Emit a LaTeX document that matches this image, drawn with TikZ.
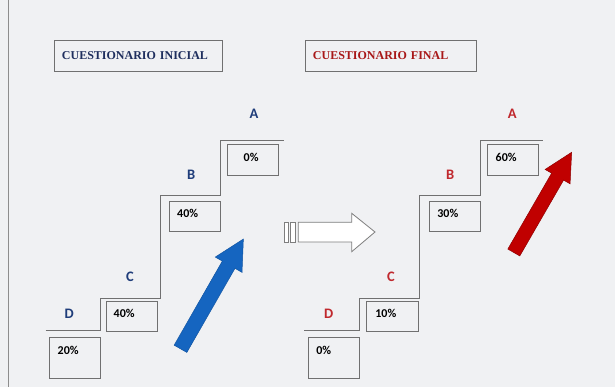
\documentclass[tikz,border=0pt]{standalone}
\usepackage{fontspec}
\setmainfont{Liberation Serif}
\newfontfamily\calib{Carlito}
\usepackage{tikz}
\usetikzlibrary{positioning}
\definecolor{pagebg}{HTML}{F0F1F3}
\definecolor{linegray}{HTML}{707070}
\definecolor{navytxt}{HTML}{1F2F5E}
\definecolor{navylab}{HTML}{1F3D7A}
\definecolor{redtxt}{HTML}{A81818}
\definecolor{redlab}{HTML}{C0282D}
\definecolor{arrowblue}{HTML}{1565C0}
\definecolor{arrowred}{HTML}{C00000}
\tikzset{%
  pbox/.style={draw=linegray, line width=0.9pt, minimum width=51.3pt, minimum height=30.3pt, anchor=north west, inner sep=0pt},
  lowbox/.style={pbox, minimum height=40.5pt},
  pct/.style={font=\calib\bfseries\fontsize{12}{14}\selectfont, anchor=west, inner sep=0pt},
  stairs/.style={draw=linegray, line width=1pt},
  letter/.style={font=\calib\bfseries\fontsize{14.5}{16}\selectfont, inner sep=0pt},
  titlebox/.style={draw=linegray, line width=0.9pt, anchor=north west, minimum height=31pt, inner xsep=7.5pt, align=left, font=\bfseries\fontsize{12}{14}\selectfont},
  hollow/.style={draw=linegray!90, line width=0.8pt, fill=white},
}

\begin{document}
\begin{tikzpicture}[x=1pt,y=-1pt]
\useasboundingbox (0,0) rectangle (615,387);
\fill[pagebg] (0,0) rectangle (615,387);
\draw[linegray!80, line width=1pt] (8,0) -- (8,387);
% titles
\node[titlebox, text width=153pt, text=navytxt] (tinit) at (54,40) {CUESTIONARIO INICIAL};
\node[titlebox, text width=156pt, text=redtxt] (tfinal) at (305,40) {CUESTIONARIO FINAL};
% left stairs
\draw[stairs] (45.7,330.7) -- (100,330.7) -- (100,298.3) -- (160,298.3) -- (160,196) -- (220.7,196) -- (220.7,140.7) -- (284.3,140.7);
\node[lowbox] (boxD1) at (49,337) {};
\node[pbox] (boxC1) at (106,300.7) {};
\node[pbox] (boxB1) at (169,200.7) {};
\node[pbox] (boxA1) at (227,144.3) {};
\node[pct] (pD1) at (57.5,350) {20\%};
\node[pct] (pC1) at (113.5,313) {40\%};
\node[pct] (pB1) at (177,213.3) {40\%};
\node[pct] (pA1) at (243.5,157.5) {0\%};
\node[letter, navylab] (lD1) at (69.3,313.3) {D};
\node[letter, navylab] (lC1) at (130,276.7) {C};
\node[letter, navylab] (lB1) at (191.3,175) {B};
\node[letter, navylab] (lA1) at (254,113.5) {A};
% right stairs
\draw[stairs] (304.3,330.7) -- (359.3,330.7) -- (359.3,298.3) -- (419.3,298.3) -- (419.3,196) -- (480.3,196) -- (480.3,140.7) -- (543.3,140.7);
\node[lowbox] (boxD2) at (308,337.3) {};
\node[pbox] (boxC2) at (366.3,300.7) {};
\node[pbox] (boxB2) at (429,200.7) {};
\node[pbox] (boxA2) at (487,144.3) {};
\node[pct] (pD2) at (316.2,350) {0\%};
\node[pct] (pC2) at (375.2,313) {10\%};
\node[pct] (pB2) at (437.2,213.3) {30\%};
\node[pct] (pA2) at (495.5,157) {60\%};
\node[letter, redlab] (lD2) at (328.7,313.3) {D};
\node[letter, redlab] (lC2) at (391,276.7) {C};
\node[letter, redlab] (lB2) at (450.3,175) {B};
\node[letter, redlab] (lA2) at (512.3,113.5) {A};
% hollow arrow
\draw[hollow] (284,222.3) rectangle (288,242);
\draw[hollow] (290,222.3) rectangle (295.3,242);
\draw[hollow] (298.3,222.3) -- (351.7,222.3) -- (351.7,213.3) -- (375,232) -- (351.7,251.7) -- (351.7,242) -- (298.3,242) -- cycle;
% solid arrows
\begin{scope}[shift={(180.5,348.8)}, rotate=60.2]
  \filldraw[fill=arrowblue, draw=arrowblue!85!black, line width=0.5pt] (0,-7.3) -- (96.9,-7.3) -- (96.9,-15.4) -- (126.5,0) -- (96.9,15.4) -- (96.9,7.3) -- (0,7.3) -- cycle;
\end{scope}
\begin{scope}[shift={(513.8,252.5)}, rotate=60]
  \filldraw[fill=arrowred, draw=arrowred!75!black, line width=0.5pt] (0,-6.9) -- (87.6,-6.9) -- (87.6,-14.4) -- (115.7,0) -- (87.6,14.4) -- (87.6,6.9) -- (0,6.9) -- cycle;
\end{scope}
\end{tikzpicture}
\end{document}
